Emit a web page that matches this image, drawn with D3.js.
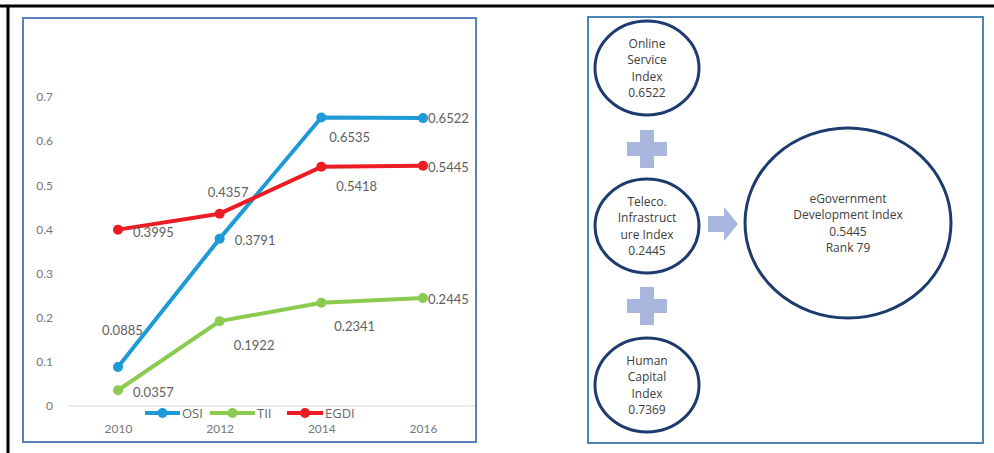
<!DOCTYPE html>
<html>
<head>
<meta charset="utf-8">
<script src="https://cdn.jsdelivr.net/npm/d3@7"></script>
<style>
  body { margin: 0; background: #fff; }
  svg { display: block; }
  .val { font-family: Lato, "Open Sans", sans-serif; font-size: 13px; fill: #606060; }
  .tick-lbl { font-family: Lato, "Open Sans", sans-serif; font-size: 12px; fill: #777; }
  .legend-lbl { font-family: "Open Sans", sans-serif; font-size: 13px; fill: #666; }
  .node-lbl { font-family: "Open Sans", "DejaVu Sans", sans-serif; font-size: 12px; fill: #404040; }
</style>
</head>
<body>
<script>
// chart data
const years = ['2010', '2012', '2014', '2016'];
const yTicks = [0, 0.1, 0.2, 0.3, 0.4, 0.5, 0.6, 0.7];
const seriesNames = ['OSI', 'TII', 'EGDI'];
const osi = [0.0885, 0.3791, 0.6535, 0.6522];
const tii = [0.0357, 0.1922, 0.2341, 0.2445];
const egdi = [0.3995, 0.4357, 0.5418, 0.5445];
const colors = ['#1e9ad6', '#8bcb4f', '#ec1c24'];

// diagram text
const osiNode = ['Online', 'Service', 'Index', '0.6522'];
const tiiNode = ['Teleco.', 'Infrastruct', 'ure Index', '0.2445'];
const hciNode = ['Human', 'Capital', 'Index', '0.7369'];
const egdiNode = ['eGovernment', 'Development Index', '0.5445', 'Rank 79'];

// label offsets from each point (layout only)
const labelOffsets = [
  [[-16, -37], [15, 1], [8, 19], [5, 0]],
  [[15, 2], [14, 24], [13, 23], [5, 1]],
  [[15, 2], [-12, -22], [15, 19], [5, 1]]
];

const w = 994, h = 453;
const svg = d3.select('body').append('svg').attr('width', w).attr('height', h);

// outer black frame (top + left only)
svg.append('line').attr('x1', 0).attr('x2', w).attr('y1', 6).attr('y2', 6)
   .attr('stroke', '#000').attr('stroke-width', 3);
svg.append('line').attr('x1', 8).attr('x2', 8).attr('y1', 5).attr('y2', h)
   .attr('stroke', '#000').attr('stroke-width', 3);

// left panel
svg.append('rect').attr('x', 23).attr('y', 18).attr('width', 453).attr('height', 424)
   .attr('fill', 'none').attr('stroke', '#5b80c2').attr('stroke-width', 2);

const xScale = d3.scalePoint().domain(years).range([118, 423]);
const yScale = d3.scaleLinear().domain([0, 0.7]).range([406, 97]);

svg.append('line').attr('x1', 68).attr('x2', 475)
   .attr('y1', yScale(0)).attr('y2', yScale(0))
   .attr('stroke', '#d9d9d9').attr('stroke-width', 1);

const yAxis = d3.axisLeft(yScale).tickValues(yTicks).tickSize(0).tickPadding(0)
                .tickFormat(d => d === 0 ? '0' : d3.format('.1f')(d));
const yg = svg.append('g').attr('transform', 'translate(53,0)').call(yAxis);
yg.select('.domain').remove();
yg.selectAll('text').attr('class', 'tick-lbl').attr('fill', null).attr('font-family', null).attr('font-size', null);

const xAxis = d3.axisBottom(xScale).tickSize(0).tickPadding(0);
const xg = svg.append('g').attr('transform', 'translate(0,424)').call(xAxis);
xg.select('.domain').remove();
xg.selectAll('text').attr('class', 'tick-lbl').attr('fill', null).attr('font-family', null).attr('font-size', null);

const series = [osi, tii, egdi];
const line = d3.line().x((d, i) => xScale(years[i])).y(d => yScale(d));

series.forEach((vals, s) => {
  svg.append('path').datum(vals).attr('d', line)
     .attr('fill', 'none').attr('stroke', colors[s]).attr('stroke-width', 4)
     .attr('stroke-linejoin', 'round');
  svg.selectAll('.pt' + s).data(vals).enter().append('circle')
     .attr('cx', (d, i) => xScale(years[i])).attr('cy', d => yScale(d))
     .attr('r', 5).attr('fill', colors[s]);
});

series.forEach((vals, s) => {
  svg.selectAll('.lbl' + s).data(vals).enter().append('text')
     .attr('class', 'val')
     .attr('x', (d, i) => xScale(years[i]) + labelOffsets[s][i][0])
     .attr('y', (d, i) => yScale(d) + labelOffsets[s][i][1])
     .attr('dominant-baseline', 'central')
     .text(d => d.toFixed(4));
});

// legend
const legendX = [145, 210, 287];
const legendLen = [35, 45, 36];
seriesNames.forEach((name, s) => {
  const g = svg.append('g').attr('transform', 'translate(' + legendX[s] + ',413)');
  g.append('line').attr('x1', 0).attr('x2', legendLen[s]).attr('y1', 0).attr('y2', 0)
   .attr('stroke', colors[s]).attr('stroke-width', 4);
  g.append('circle').attr('cx', legendLen[s] / 2).attr('cy', 0).attr('r', 5).attr('fill', colors[s]);
  g.append('text').attr('class', 'legend-lbl').attr('x', legendLen[s] + 2).attr('y', 0)
   .attr('dominant-baseline', 'central').text(name);
});

// right panel: diagram
svg.append('rect').attr('x', 588).attr('y', 17).attr('width', 395).attr('height', 426)
   .attr('fill', 'none').attr('stroke', '#4a86b4').attr('stroke-width', 2);

const nodes = [
  { lines: osiNode, cx: 647, cy: 68, rx: 52, ry: 47 },
  { lines: tiiNode, cx: 647, cy: 226, rx: 52, ry: 47 },
  { lines: hciNode, cx: 647, cy: 385, rx: 52, ry: 47 },
  { lines: egdiNode, cx: 848, cy: 223, rx: 103, ry: 95 }
];

nodes.forEach(n => {
  svg.append('ellipse').attr('cx', n.cx).attr('cy', n.cy).attr('rx', n.rx).attr('ry', n.ry)
     .attr('fill', '#fff').attr('stroke', '#1d3b6e').attr('stroke-width', 3);
  svg.selectAll(null).data(n.lines).enter().append('text')
     .attr('class', 'node-lbl').attr('text-anchor', 'middle')
     .attr('x', n.cx).attr('y', (d, i) => n.cy + (i - 1.5) * 16.3)
     .attr('dominant-baseline', 'central').text(d => d);
});

// plus signs
[149, 306].forEach(cy => {
  svg.append('path')
     .attr('d', `M640,${cy - 19}h14v12h13v14h-13v12h-14v-12h-13v-14h13z`)
     .attr('fill', '#a9b6de');
});

// arrow
svg.append('path')
   .attr('d', 'M708,216h16v-9l14,17l-14,17v-9h-16z')
   .attr('fill', '#a9b6de');
</script>
</body>
</html>
